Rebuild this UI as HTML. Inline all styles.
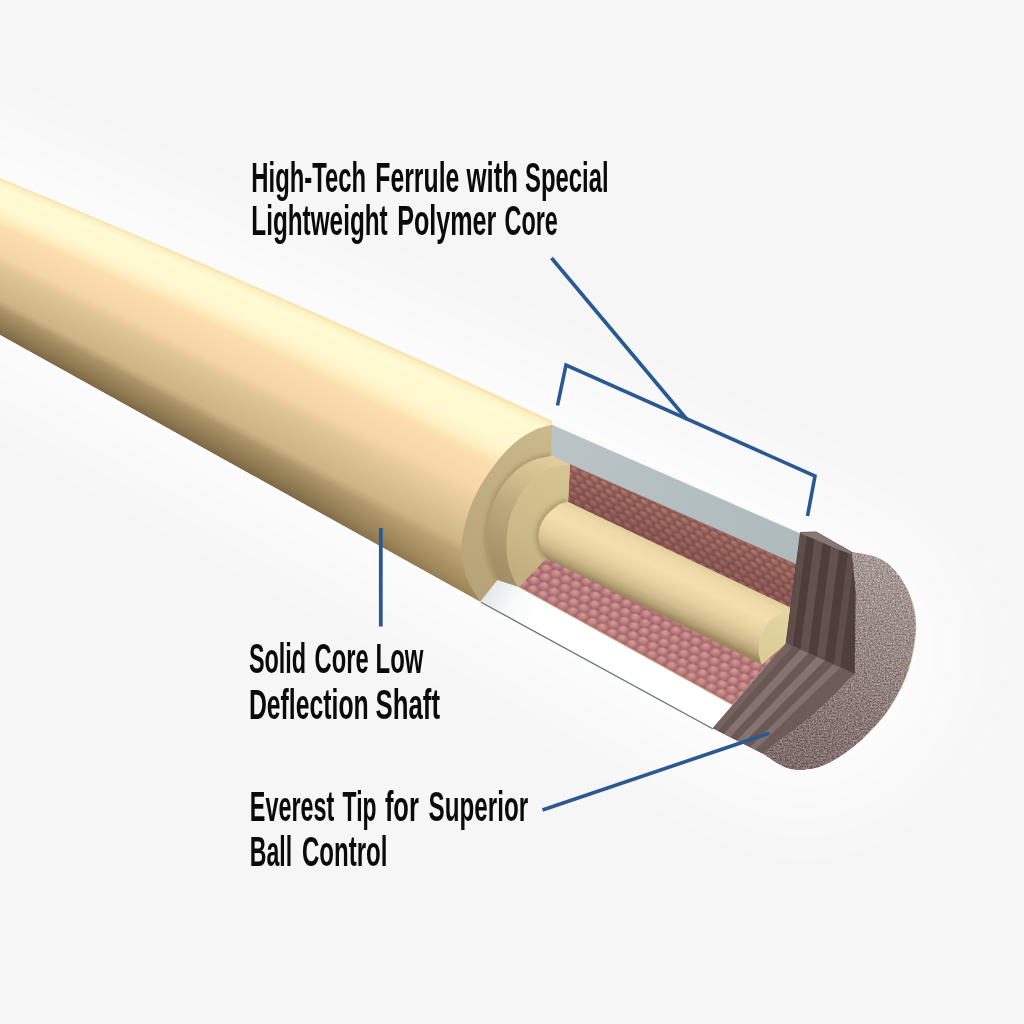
<!DOCTYPE html>
<html><head><meta charset="utf-8"><title>Cue shaft cutaway</title>
<style>
html,body{margin:0;padding:0;width:1024px;height:1024px;overflow:hidden;background:#f6f6f6;font-family:"Liberation Sans",sans-serif;}
#bg{position:absolute;left:0;top:0;width:1024px;height:1024px;background:#f6f6f6;}
svg{position:absolute;left:0;top:0;will-change:transform;}
</style></head><body>
<div id="bg"></div>
<svg width="1024" height="1024" viewBox="0 0 1024 1024">
<defs>
<filter id="glow" x="-30%" y="-40%" width="160%" height="180%"><feGaussianBlur stdDeviation="50"/></filter>
<clipPath id="shaftclip"><path d="M-5,175.6  L60.0,202.6 L120.0,227.9 L180.0,253.5 L240.0,279.5 L300.0,305.8 L360.0,332.6 L420.0,359.6 L480.0,387.1 L552.4,420.7 L552.4,425 L480.4,601.8 L-5,332.2 Z"/></clipPath>
<linearGradient id="s0" gradientUnits="userSpaceOnUse" x1="300" y1="0" x2="470" y2="0"><stop offset="0" stop-color="#f9e6b5"/><stop offset="1" stop-color="#f9e6b5"/></linearGradient>
<linearGradient id="s1" gradientUnits="userSpaceOnUse" x1="300" y1="0" x2="470" y2="0"><stop offset="0" stop-color="#fdf1c3"/><stop offset="1" stop-color="#fdf1c3"/></linearGradient>
<linearGradient id="s2" gradientUnits="userSpaceOnUse" x1="300" y1="0" x2="470" y2="0"><stop offset="0" stop-color="#fef5ca"/><stop offset="1" stop-color="#fef5ca"/></linearGradient>
<linearGradient id="s3" gradientUnits="userSpaceOnUse" x1="300" y1="0" x2="470" y2="0"><stop offset="0" stop-color="#fff9d1"/><stop offset="1" stop-color="#fff9d1"/></linearGradient>
<linearGradient id="s4" gradientUnits="userSpaceOnUse" x1="300" y1="0" x2="470" y2="0"><stop offset="0" stop-color="#fffad3"/><stop offset="1" stop-color="#fffad3"/></linearGradient>
<linearGradient id="s5" gradientUnits="userSpaceOnUse" x1="300" y1="0" x2="470" y2="0"><stop offset="0" stop-color="#fffad2"/><stop offset="1" stop-color="#fffad2"/></linearGradient>
<linearGradient id="s6" gradientUnits="userSpaceOnUse" x1="300" y1="0" x2="470" y2="0"><stop offset="0" stop-color="#fff9d2"/><stop offset="1" stop-color="#fff9d2"/></linearGradient>
<linearGradient id="s7" gradientUnits="userSpaceOnUse" x1="300" y1="0" x2="470" y2="0"><stop offset="0" stop-color="#fff9d2"/><stop offset="1" stop-color="#fff9d2"/></linearGradient>
<linearGradient id="s8" gradientUnits="userSpaceOnUse" x1="300" y1="0" x2="470" y2="0"><stop offset="0" stop-color="#fff9d1"/><stop offset="1" stop-color="#fff9d1"/></linearGradient>
<linearGradient id="s9" gradientUnits="userSpaceOnUse" x1="300" y1="0" x2="470" y2="0"><stop offset="0" stop-color="#fff9d1"/><stop offset="1" stop-color="#fff9d1"/></linearGradient>
<linearGradient id="s10" gradientUnits="userSpaceOnUse" x1="300" y1="0" x2="470" y2="0"><stop offset="0" stop-color="#fff8d0"/><stop offset="1" stop-color="#fff9d1"/></linearGradient>
<linearGradient id="s11" gradientUnits="userSpaceOnUse" x1="300" y1="0" x2="470" y2="0"><stop offset="0" stop-color="#fff8d0"/><stop offset="1" stop-color="#fff8d0"/></linearGradient>
<linearGradient id="s12" gradientUnits="userSpaceOnUse" x1="300" y1="0" x2="470" y2="0"><stop offset="0" stop-color="#fff6cd"/><stop offset="1" stop-color="#fff8d0"/></linearGradient>
<linearGradient id="s13" gradientUnits="userSpaceOnUse" x1="300" y1="0" x2="470" y2="0"><stop offset="0" stop-color="#fff4ca"/><stop offset="1" stop-color="#fff7ce"/></linearGradient>
<linearGradient id="s14" gradientUnits="userSpaceOnUse" x1="300" y1="0" x2="470" y2="0"><stop offset="0" stop-color="#fff3c7"/><stop offset="1" stop-color="#fff5cb"/></linearGradient>
<linearGradient id="s15" gradientUnits="userSpaceOnUse" x1="300" y1="0" x2="470" y2="0"><stop offset="0" stop-color="#fff0c3"/><stop offset="1" stop-color="#fff4c9"/></linearGradient>
<linearGradient id="s16" gradientUnits="userSpaceOnUse" x1="300" y1="0" x2="470" y2="0"><stop offset="0" stop-color="#feecbe"/><stop offset="1" stop-color="#fff2c6"/></linearGradient>
<linearGradient id="s17" gradientUnits="userSpaceOnUse" x1="300" y1="0" x2="470" y2="0"><stop offset="0" stop-color="#fde8b9"/><stop offset="1" stop-color="#fff0c3"/></linearGradient>
<linearGradient id="s18" gradientUnits="userSpaceOnUse" x1="300" y1="0" x2="470" y2="0"><stop offset="0" stop-color="#fde4b4"/><stop offset="1" stop-color="#feeabc"/></linearGradient>
<linearGradient id="s19" gradientUnits="userSpaceOnUse" x1="300" y1="0" x2="470" y2="0"><stop offset="0" stop-color="#fcdfb0"/><stop offset="1" stop-color="#fde5b6"/></linearGradient>
<linearGradient id="s20" gradientUnits="userSpaceOnUse" x1="300" y1="0" x2="470" y2="0"><stop offset="0" stop-color="#fcddad"/><stop offset="1" stop-color="#fce1b1"/></linearGradient>
<linearGradient id="s21" gradientUnits="userSpaceOnUse" x1="300" y1="0" x2="470" y2="0"><stop offset="0" stop-color="#fbdcac"/><stop offset="1" stop-color="#fcdeae"/></linearGradient>
<linearGradient id="s22" gradientUnits="userSpaceOnUse" x1="300" y1="0" x2="470" y2="0"><stop offset="0" stop-color="#fbdcac"/><stop offset="1" stop-color="#fbddad"/></linearGradient>
<linearGradient id="s23" gradientUnits="userSpaceOnUse" x1="300" y1="0" x2="470" y2="0"><stop offset="0" stop-color="#fbdbab"/><stop offset="1" stop-color="#fbdcac"/></linearGradient>
<linearGradient id="s24" gradientUnits="userSpaceOnUse" x1="300" y1="0" x2="470" y2="0"><stop offset="0" stop-color="#fadaaa"/><stop offset="1" stop-color="#fbdbab"/></linearGradient>
<linearGradient id="s25" gradientUnits="userSpaceOnUse" x1="300" y1="0" x2="470" y2="0"><stop offset="0" stop-color="#fadaaa"/><stop offset="1" stop-color="#fadbab"/></linearGradient>
<linearGradient id="s26" gradientUnits="userSpaceOnUse" x1="300" y1="0" x2="470" y2="0"><stop offset="0" stop-color="#f9d9a9"/><stop offset="1" stop-color="#fadaaa"/></linearGradient>
<linearGradient id="s27" gradientUnits="userSpaceOnUse" x1="300" y1="0" x2="470" y2="0"><stop offset="0" stop-color="#f9d8a8"/><stop offset="1" stop-color="#f9d9a9"/></linearGradient>
<linearGradient id="s28" gradientUnits="userSpaceOnUse" x1="300" y1="0" x2="470" y2="0"><stop offset="0" stop-color="#f8d8a8"/><stop offset="1" stop-color="#f9d9a9"/></linearGradient>
<linearGradient id="s29" gradientUnits="userSpaceOnUse" x1="300" y1="0" x2="470" y2="0"><stop offset="0" stop-color="#f8d7a7"/><stop offset="1" stop-color="#f9d8a8"/></linearGradient>
<linearGradient id="s30" gradientUnits="userSpaceOnUse" x1="300" y1="0" x2="470" y2="0"><stop offset="0" stop-color="#f7d7a7"/><stop offset="1" stop-color="#f8d7a7"/></linearGradient>
<linearGradient id="s31" gradientUnits="userSpaceOnUse" x1="300" y1="0" x2="470" y2="0"><stop offset="0" stop-color="#f6d5a5"/><stop offset="1" stop-color="#f7d6a6"/></linearGradient>
<linearGradient id="s32" gradientUnits="userSpaceOnUse" x1="300" y1="0" x2="470" y2="0"><stop offset="0" stop-color="#f2d2a2"/><stop offset="1" stop-color="#f3d4a4"/></linearGradient>
<linearGradient id="s33" gradientUnits="userSpaceOnUse" x1="300" y1="0" x2="470" y2="0"><stop offset="0" stop-color="#edce9e"/><stop offset="1" stop-color="#f0d2a2"/></linearGradient>
<linearGradient id="s34" gradientUnits="userSpaceOnUse" x1="300" y1="0" x2="470" y2="0"><stop offset="0" stop-color="#e8cb9b"/><stop offset="1" stop-color="#edd0a0"/></linearGradient>
<linearGradient id="s35" gradientUnits="userSpaceOnUse" x1="300" y1="0" x2="470" y2="0"><stop offset="0" stop-color="#e4c898"/><stop offset="1" stop-color="#eacf9f"/></linearGradient>
<linearGradient id="s36" gradientUnits="userSpaceOnUse" x1="300" y1="0" x2="470" y2="0"><stop offset="0" stop-color="#dfc696"/><stop offset="1" stop-color="#e9cd9d"/></linearGradient>
<linearGradient id="s37" gradientUnits="userSpaceOnUse" x1="300" y1="0" x2="470" y2="0"><stop offset="0" stop-color="#dec595"/><stop offset="1" stop-color="#e7cb9b"/></linearGradient>
<linearGradient id="s38" gradientUnits="userSpaceOnUse" x1="300" y1="0" x2="470" y2="0"><stop offset="0" stop-color="#dcc393"/><stop offset="1" stop-color="#e5ca9a"/></linearGradient>
<linearGradient id="s39" gradientUnits="userSpaceOnUse" x1="300" y1="0" x2="470" y2="0"><stop offset="0" stop-color="#dbc292"/><stop offset="1" stop-color="#e3c898"/></linearGradient>
<linearGradient id="s40" gradientUnits="userSpaceOnUse" x1="300" y1="0" x2="470" y2="0"><stop offset="0" stop-color="#d9c090"/><stop offset="1" stop-color="#e1c797"/></linearGradient>
<linearGradient id="s41" gradientUnits="userSpaceOnUse" x1="300" y1="0" x2="470" y2="0"><stop offset="0" stop-color="#d8bf8f"/><stop offset="1" stop-color="#dfc595"/></linearGradient>
<linearGradient id="s42" gradientUnits="userSpaceOnUse" x1="300" y1="0" x2="470" y2="0"><stop offset="0" stop-color="#d6bd8d"/><stop offset="1" stop-color="#ddc393"/></linearGradient>
<linearGradient id="s43" gradientUnits="userSpaceOnUse" x1="300" y1="0" x2="470" y2="0"><stop offset="0" stop-color="#d5bc8c"/><stop offset="1" stop-color="#dbc191"/></linearGradient>
<linearGradient id="s44" gradientUnits="userSpaceOnUse" x1="300" y1="0" x2="470" y2="0"><stop offset="0" stop-color="#d4bb8b"/><stop offset="1" stop-color="#d8bf8f"/></linearGradient>
<linearGradient id="s45" gradientUnits="userSpaceOnUse" x1="300" y1="0" x2="470" y2="0"><stop offset="0" stop-color="#d3ba8a"/><stop offset="1" stop-color="#d6bd8d"/></linearGradient>
<linearGradient id="s46" gradientUnits="userSpaceOnUse" x1="300" y1="0" x2="470" y2="0"><stop offset="0" stop-color="#d1b889"/><stop offset="1" stop-color="#d4bc8c"/></linearGradient>
<linearGradient id="s47" gradientUnits="userSpaceOnUse" x1="300" y1="0" x2="470" y2="0"><stop offset="0" stop-color="#d0b788"/><stop offset="1" stop-color="#d2ba8a"/></linearGradient>
<linearGradient id="s48" gradientUnits="userSpaceOnUse" x1="300" y1="0" x2="470" y2="0"><stop offset="0" stop-color="#cfb687"/><stop offset="1" stop-color="#cfb787"/></linearGradient>
<linearGradient id="s49" gradientUnits="userSpaceOnUse" x1="300" y1="0" x2="470" y2="0"><stop offset="0" stop-color="#ccb485"/><stop offset="1" stop-color="#cdb485"/></linearGradient>
<linearGradient id="s50" gradientUnits="userSpaceOnUse" x1="300" y1="0" x2="470" y2="0"><stop offset="0" stop-color="#c5ad7e"/><stop offset="1" stop-color="#c8af80"/></linearGradient>
<linearGradient id="s51" gradientUnits="userSpaceOnUse" x1="300" y1="0" x2="470" y2="0"><stop offset="0" stop-color="#bda577"/><stop offset="1" stop-color="#c1a87a"/></linearGradient>
<linearGradient id="s52" gradientUnits="userSpaceOnUse" x1="300" y1="0" x2="470" y2="0"><stop offset="0" stop-color="#b29a6e"/><stop offset="1" stop-color="#bda476"/></linearGradient>
<linearGradient id="s53" gradientUnits="userSpaceOnUse" x1="300" y1="0" x2="470" y2="0"><stop offset="0" stop-color="#aa9367"/><stop offset="1" stop-color="#bba274"/></linearGradient>
<linearGradient id="s54" gradientUnits="userSpaceOnUse" x1="300" y1="0" x2="470" y2="0"><stop offset="0" stop-color="#a68f63"/><stop offset="1" stop-color="#b89f71"/></linearGradient>
<linearGradient id="s55" gradientUnits="userSpaceOnUse" x1="300" y1="0" x2="470" y2="0"><stop offset="0" stop-color="#a28b60"/><stop offset="1" stop-color="#b59c6e"/></linearGradient>
<linearGradient id="s56" gradientUnits="userSpaceOnUse" x1="300" y1="0" x2="470" y2="0"><stop offset="0" stop-color="#9e875d"/><stop offset="1" stop-color="#b29a6b"/></linearGradient>
<linearGradient id="s57" gradientUnits="userSpaceOnUse" x1="300" y1="0" x2="470" y2="0"><stop offset="0" stop-color="#9a8359"/><stop offset="1" stop-color="#b09768"/></linearGradient>
<linearGradient id="s58" gradientUnits="userSpaceOnUse" x1="300" y1="0" x2="470" y2="0"><stop offset="0" stop-color="#967f56"/><stop offset="1" stop-color="#ad9465"/></linearGradient>
<linearGradient id="s59" gradientUnits="userSpaceOnUse" x1="300" y1="0" x2="470" y2="0"><stop offset="0" stop-color="#927c54"/><stop offset="1" stop-color="#aa9262"/></linearGradient>
<linearGradient id="s60" gradientUnits="userSpaceOnUse" x1="300" y1="0" x2="470" y2="0"><stop offset="0" stop-color="#8e7851"/><stop offset="1" stop-color="#a78f5f"/></linearGradient>
<linearGradient id="s61" gradientUnits="userSpaceOnUse" x1="300" y1="0" x2="470" y2="0"><stop offset="0" stop-color="#8a744e"/><stop offset="1" stop-color="#a38b5d"/></linearGradient>
<linearGradient id="s62" gradientUnits="userSpaceOnUse" x1="300" y1="0" x2="470" y2="0"><stop offset="0" stop-color="#856f4b"/><stop offset="1" stop-color="#9f875b"/></linearGradient>
<linearGradient id="s63" gradientUnits="userSpaceOnUse" x1="300" y1="0" x2="470" y2="0"><stop offset="0" stop-color="#806b48"/><stop offset="1" stop-color="#9c8459"/></linearGradient>
<linearGradient id="gw" gradientUnits="userSpaceOnUse" x1="552" y1="440" x2="800" y2="548"><stop offset="0" stop-color="#bac4c6"/><stop offset="0.5" stop-color="#b4bfc1"/><stop offset="1" stop-color="#aebabc"/></linearGradient>
<linearGradient id="ws" gradientUnits="userSpaceOnUse" x1="488" y1="590" x2="535" y2="616"><stop offset="0" stop-color="#e3e8ea"/><stop offset="0.5" stop-color="#f8f9f9"/><stop offset="1" stop-color="#ffffff"/></linearGradient>
<radialGradient id="bU" cx="0.5" cy="0.5" r="0.5" fx="0.36" fy="0.30"><stop offset="0" stop-color="#ba8673"/><stop offset="0.55" stop-color="#a46f64"/><stop offset="1" stop-color="#885655"/></radialGradient>
<radialGradient id="bL" cx="0.5" cy="0.5" r="0.5" fx="0.36" fy="0.28"><stop offset="0" stop-color="#d9a28d"/><stop offset="0.5" stop-color="#c38683"/><stop offset="1" stop-color="#a26471"/></radialGradient>
<pattern id="hcU" width="10.00" height="17.32" patternUnits="userSpaceOnUse" patternTransform="matrix(1.0,0.46,-0.04,0.70,570,465)"><rect width="10.00" height="17.32" fill="#845352"/><circle cx="5.00" cy="4.33" r="5.40" fill="url(#bU)"/><circle cx="0.00" cy="12.99" r="5.40" fill="url(#bU)"/><circle cx="10.00" cy="12.99" r="5.40" fill="url(#bU)"/></pattern>
<pattern id="hcL" width="10.00" height="17.32" patternUnits="userSpaceOnUse" patternTransform="matrix(0.99,0.546,-0.70,0.70,520,587)"><rect width="10.00" height="17.32" fill="#9c5f6b"/><circle cx="5.00" cy="4.33" r="5.50" fill="url(#bL)"/><circle cx="0.00" cy="12.99" r="5.50" fill="url(#bL)"/><circle cx="10.00" cy="12.99" r="5.50" fill="url(#bL)"/></pattern>
<linearGradient id="hcUs" gradientUnits="userSpaceOnUse" x1="690" y1="500" x2="672" y2="540"><stop offset="0.2" stop-color="#5a2c30" stop-opacity="0"/><stop offset="1" stop-color="#5a2c30" stop-opacity="0.28"/></linearGradient>
<linearGradient id="shf" gradientUnits="userSpaceOnUse" x1="545" y1="425" x2="478" y2="600"><stop offset="0" stop-color="#cbba8b"/><stop offset="0.45" stop-color="#c0ad80"/><stop offset="1" stop-color="#b6a278"/></linearGradient>
<filter id="blur2" x="-20%" y="-20%" width="140%" height="140%"><feGaussianBlur stdDeviation="2.2"/></filter>
<clipPath id="shfc"><path d="M552.3,424.6 C549.2,425.6 540.1,427.4 533.8,430.5 C527.4,433.6 520.7,437.5 514.2,443.2 C507.7,448.9 500.9,456.6 494.7,464.7 C488.5,472.8 481.8,482.9 477.1,492.0 C472.4,501.1 469.0,510.3 466.4,519.4 C463.8,528.5 461.7,537.6 461.5,546.7 C461.3,555.8 463.4,566.7 465.4,574.0 C467.3,581.3 470.7,585.9 473.2,590.5 C475.7,595.1 479.2,599.8 480.4,601.6 L497.6,580.0 C496.5,577.0 492.6,569.1 490.8,562.3 C489.0,555.4 487.1,546.7 486.9,538.9 C486.7,531.1 487.9,523.3 489.8,515.5 C491.8,507.7 494.5,499.2 498.6,492.0 C502.7,484.8 508.7,477.7 514.2,472.5 C519.7,467.3 525.6,463.6 531.8,460.8 C538.0,458.0 548.0,456.7 551.3,455.9 Z"/></clipPath>
<linearGradient id="tns" gradientUnits="userSpaceOnUse" x1="548" y1="452" x2="495" y2="585"><stop offset="0" stop-color="#e3cf9f"/><stop offset="0.22" stop-color="#d3bf8e"/><stop offset="0.45" stop-color="#bea97c"/><stop offset="0.8" stop-color="#a9946a"/><stop offset="1" stop-color="#a08b63"/></linearGradient>
<linearGradient id="tnf" gradientUnits="userSpaceOnUse" x1="565" y1="468" x2="510" y2="585"><stop offset="0" stop-color="#d6c492"/><stop offset="0.6" stop-color="#cbb989"/><stop offset="1" stop-color="#bfac7e"/></linearGradient>
<clipPath id="tnfc"><path d="M569.9,464.7 C566.5,465.4 555.8,466.0 549.4,468.6 C543.0,471.2 537.0,475.4 531.8,480.3 C526.6,485.2 521.9,491.4 518.1,497.9 C514.4,504.4 511.2,511.9 509.3,519.4 C507.4,526.9 506.5,535.3 506.4,542.8 C506.2,550.3 506.9,557.8 508.4,564.3 C509.9,570.8 513.4,578.1 515.2,581.9 C517.0,585.6 518.5,586.0 519.1,586.8 L546.4,558.4 L567.9,501.8 Z"/></clipPath>
<linearGradient id="rod" gradientUnits="userSpaceOnUse" x1="668" y1="550" x2="642" y2="604"><stop offset="0" stop-color="#e4cf9f"/><stop offset="0.12" stop-color="#f0daaa"/><stop offset="0.33" stop-color="#f5dfaf"/><stop offset="0.58" stop-color="#e9d2a2"/><stop offset="0.78" stop-color="#d4bd8e"/><stop offset="0.91" stop-color="#baa579"/><stop offset="1" stop-color="#9c8860"/></linearGradient>
<linearGradient id="rodf" gradientUnits="userSpaceOnUse" x1="785" y1="610" x2="762" y2="665"><stop offset="0" stop-color="#e4d6a1"/><stop offset="1" stop-color="#dacb96"/></linearGradient>
<filter id="noise" x="0" y="0" width="100%" height="100%" color-interpolation-filters="sRGB">
<feTurbulence type="fractalNoise" baseFrequency="0.62" numOctaves="2" seed="11" result="n"/>
<feColorMatrix in="n" type="matrix" values="1 0 0 0 0  1 0 0 0 0  1 0 0 0 0  0 0 0 0 1" result="g"/>
<feComposite in="SourceGraphic" in2="g" operator="arithmetic" k1="0" k2="1" k3="0.52" k4="-0.26" result="m"/>
<feComposite in="m" in2="SourceGraphic" operator="in"/>
</filter>
<linearGradient id="lth" gradientUnits="userSpaceOnUse" x1="885" y1="555" x2="795" y2="765"><stop offset="0" stop-color="#a89a97"/><stop offset="0.35" stop-color="#9a8a87"/><stop offset="0.75" stop-color="#877673"/><stop offset="1" stop-color="#7e6d6a"/></linearGradient>
<clipPath id="vfc"><polygon points="800.5,532.5 816.0,532.0 851.3,552.0 855.2,592.0 854.3,673.6 786.2,643.0"/></clipPath>
<clipPath id="hfc"><path d="M786.2,643.0 L854.3,673.6 C850.9,676.5 844.1,684.5 836.7,691.8 C829.3,699.1 818.2,709.7 809.4,717.2 C800.6,724.7 791.7,730.6 784.0,736.7 C776.3,742.8 766.5,750.9 763.0,753.8 L712.7,728.2 Z"/></clipPath>
</defs>
<polygon points="-120.0,85.0 250.0,246.0 552.0,376.0 800.0,488.0 880.0,520.0 945.0,575.0 962.0,645.0 940.0,725.0 880.0,792.0 800.0,818.0 735.0,792.0 480.0,646.0 0.0,379.0 -120.0,312.0" fill="#ffffff" opacity="0.8" filter="url(#glow)"/>
<g clip-path="url(#shaftclip)">
<polygon points="-10.0,173.6 80.0,211.0 170.0,249.2 260.0,288.2 350.0,328.1 440.0,368.8 530.0,410.2 620.0,452.6 620.0,458.6 530.0,416.1 440.0,374.4 350.0,333.4 260.0,293.3 170.0,254.0 80.0,215.5 -10.0,177.7" fill="url(#s0)"/>
<polygon points="-10.0,176.0 80.0,213.6 170.0,252.0 260.0,291.2 350.0,331.2 440.0,372.1 530.0,413.7 620.0,456.1 620.0,462.1 530.0,419.5 440.0,377.7 350.0,336.6 260.0,296.3 170.0,256.8 80.0,218.1 -10.0,180.2" fill="url(#s1)"/>
<polygon points="-10.0,178.5 80.0,216.2 170.0,254.8 260.0,294.2 350.0,334.4 440.0,375.4 530.0,417.1 620.0,459.7 620.0,465.7 530.0,422.9 440.0,381.0 350.0,339.7 260.0,299.3 170.0,259.6 80.0,220.7 -10.0,182.6" fill="url(#s2)"/>
<polygon points="-10.0,180.9 80.0,218.9 170.0,257.7 260.0,297.2 350.0,337.5 440.0,378.7 530.0,420.5 620.0,463.2 620.0,469.3 530.0,426.4 440.0,384.3 350.0,342.9 260.0,302.3 170.0,262.4 80.0,223.4 -10.0,185.0" fill="url(#s3)"/>
<polygon points="-10.0,183.3 80.0,221.5 170.0,260.5 260.0,300.2 350.0,340.7 440.0,382.0 530.0,424.0 620.0,466.8 620.0,472.8 530.0,429.8 440.0,387.6 350.0,346.0 260.0,305.3 170.0,265.3 80.0,226.0 -10.0,187.5" fill="url(#s4)"/>
<polygon points="-10.0,185.8 80.0,224.2 170.0,263.3 260.0,303.2 350.0,343.8 440.0,385.2 530.0,427.4 620.0,470.3 620.0,476.4 530.0,433.2 440.0,390.9 350.0,349.2 260.0,308.3 170.0,268.1 80.0,228.6 -10.0,189.9" fill="url(#s5)"/>
<polygon points="-10.0,188.2 80.0,226.8 170.0,266.1 260.0,306.2 350.0,347.0 440.0,388.5 530.0,430.8 620.0,473.9 620.0,479.9 530.0,436.7 440.0,394.2 350.0,352.4 260.0,311.3 170.0,270.9 80.0,231.3 -10.0,192.3" fill="url(#s6)"/>
<polygon points="-10.0,190.6 80.0,229.4 170.0,268.9 260.0,309.2 350.0,350.1 440.0,391.8 530.0,434.3 620.0,477.4 620.0,483.5 530.0,440.1 440.0,397.5 350.0,355.5 260.0,314.3 170.0,273.7 80.0,233.9 -10.0,194.8" fill="url(#s7)"/>
<polygon points="-10.0,193.1 80.0,232.1 170.0,271.8 260.0,312.2 350.0,353.3 440.0,395.1 530.0,437.7 620.0,481.0 620.0,487.0 530.0,443.5 440.0,400.8 350.0,358.7 260.0,317.3 170.0,276.5 80.0,236.5 -10.0,197.2" fill="url(#s8)"/>
<polygon points="-10.0,195.5 80.0,234.7 170.0,274.6 260.0,315.2 350.0,356.4 440.0,398.4 530.0,441.1 620.0,484.5 620.0,490.6 530.0,447.0 440.0,404.1 350.0,361.8 260.0,320.2 170.0,279.4 80.0,239.2 -10.0,199.6" fill="url(#s9)"/>
<polygon points="-10.0,197.9 80.0,237.3 170.0,277.4 260.0,318.1 350.0,359.6 440.0,401.7 530.0,444.6 620.0,488.1 620.0,494.1 530.0,450.4 440.0,407.3 350.0,365.0 260.0,323.2 170.0,282.2 80.0,241.8 -10.0,202.1" fill="url(#s10)"/>
<polygon points="-10.0,200.4 80.0,240.0 170.0,280.2 260.0,321.1 350.0,362.8 440.0,405.0 530.0,448.0 620.0,491.6 620.0,497.7 530.0,453.8 440.0,410.6 350.0,368.1 260.0,326.2 170.0,285.0 80.0,244.4 -10.0,204.5" fill="url(#s11)"/>
<polygon points="-10.0,202.8 80.0,242.6 170.0,283.0 260.0,324.1 350.0,365.9 440.0,408.3 530.0,451.4 620.0,495.2 620.0,501.2 530.0,457.3 440.0,413.9 350.0,371.3 260.0,329.2 170.0,287.8 80.0,247.1 -10.0,206.9" fill="url(#s12)"/>
<polygon points="-10.0,205.2 80.0,245.2 170.0,285.8 260.0,327.1 350.0,369.1 440.0,411.6 530.0,454.9 620.0,498.8 620.0,504.8 530.0,460.7 440.0,417.2 350.0,374.4 260.0,332.2 170.0,290.6 80.0,249.7 -10.0,209.4" fill="url(#s13)"/>
<polygon points="-10.0,207.7 80.0,247.9 170.0,288.7 260.0,330.1 350.0,372.2 440.0,414.9 530.0,458.3 620.0,502.3 620.0,508.4 530.0,464.1 440.0,420.5 350.0,377.6 260.0,335.2 170.0,293.5 80.0,252.3 -10.0,211.8" fill="url(#s14)"/>
<polygon points="-10.0,210.1 80.0,250.5 170.0,291.5 260.0,333.1 350.0,375.4 440.0,418.2 530.0,461.7 620.0,505.9 620.0,511.9 530.0,467.6 440.0,423.8 350.0,380.7 260.0,338.2 170.0,296.3 80.0,255.0 -10.0,214.3" fill="url(#s15)"/>
<polygon points="-10.0,212.5 80.0,253.1 170.0,294.3 260.0,336.1 350.0,378.5 440.0,421.5 530.0,465.2 620.0,509.4 620.0,515.5 530.0,471.0 440.0,427.1 350.0,383.9 260.0,341.2 170.0,299.1 80.0,257.6 -10.0,216.7" fill="url(#s16)"/>
<polygon points="-10.0,215.0 80.0,255.8 170.0,297.1 260.0,339.1 350.0,381.7 440.0,424.8 530.0,468.6 620.0,513.0 620.0,519.0 530.0,474.4 440.0,430.4 350.0,387.0 260.0,344.2 170.0,301.9 80.0,260.2 -10.0,219.1" fill="url(#s17)"/>
<polygon points="-10.0,217.4 80.0,258.4 170.0,299.9 260.0,342.1 350.0,384.8 440.0,428.1 530.0,472.0 620.0,516.5 620.0,522.6 530.0,477.9 440.0,433.7 350.0,390.2 260.0,347.2 170.0,304.7 80.0,262.9 -10.0,221.6" fill="url(#s18)"/>
<polygon points="-10.0,219.9 80.0,261.0 170.0,302.8 260.0,345.1 350.0,388.0 440.0,431.4 530.0,475.5 620.0,520.1 620.0,526.1 530.0,481.3 440.0,437.0 350.0,393.3 260.0,350.2 170.0,307.5 80.0,265.5 -10.0,224.0" fill="url(#s19)"/>
<polygon points="-10.0,222.3 80.0,263.7 170.0,305.6 260.0,348.1 350.0,391.1 440.0,434.7 530.0,478.9 620.0,523.6 620.0,529.7 530.0,484.7 440.0,440.3 350.0,396.5 260.0,353.1 170.0,310.4 80.0,268.1 -10.0,226.4" fill="url(#s20)"/>
<polygon points="-10.0,224.7 80.0,266.3 170.0,308.4 260.0,351.1 350.0,394.3 440.0,438.0 530.0,482.3 620.0,527.2 620.0,533.2 530.0,488.2 440.0,443.6 350.0,399.6 260.0,356.1 170.0,313.2 80.0,270.8 -10.0,228.9" fill="url(#s21)"/>
<polygon points="-10.0,227.2 80.0,268.9 170.0,311.2 260.0,354.0 350.0,397.4 440.0,441.3 530.0,485.8 620.0,530.7 620.0,536.8 530.0,491.6 440.0,446.9 350.0,402.8 260.0,359.1 170.0,316.0 80.0,273.4 -10.0,231.3" fill="url(#s22)"/>
<polygon points="-10.0,229.6 80.0,271.6 170.0,314.0 260.0,357.0 350.0,400.6 440.0,444.6 530.0,489.2 620.0,534.3 620.0,540.3 530.0,495.0 440.0,450.2 350.0,405.9 260.0,362.1 170.0,318.8 80.0,276.0 -10.0,233.7" fill="url(#s23)"/>
<polygon points="-10.0,232.0 80.0,274.2 170.0,316.9 260.0,360.0 350.0,403.7 440.0,447.9 530.0,492.6 620.0,537.9 620.0,543.9 530.0,498.5 440.0,453.5 350.0,409.1 260.0,365.1 170.0,321.6 80.0,278.7 -10.0,236.2" fill="url(#s24)"/>
<polygon points="-10.0,234.5 80.0,276.8 170.0,319.7 260.0,363.0 350.0,406.9 440.0,451.2 530.0,496.1 620.0,541.4 620.0,547.5 530.0,501.9 440.0,456.8 350.0,412.2 260.0,368.1 170.0,324.5 80.0,281.3 -10.0,238.6" fill="url(#s25)"/>
<polygon points="-10.0,236.9 80.0,279.5 170.0,322.5 260.0,366.0 350.0,410.0 440.0,454.5 530.0,499.5 620.0,545.0 620.0,551.0 530.0,505.3 440.0,460.1 350.0,415.4 260.0,371.1 170.0,327.3 80.0,283.9 -10.0,241.0" fill="url(#s26)"/>
<polygon points="-10.0,239.3 80.0,282.1 170.0,325.3 260.0,369.0 350.0,413.2 440.0,457.8 530.0,502.9 620.0,548.5 620.0,554.6 530.0,508.8 440.0,463.4 350.0,418.5 260.0,374.1 170.0,330.1 80.0,286.6 -10.0,243.5" fill="url(#s27)"/>
<polygon points="-10.0,241.8 80.0,284.7 170.0,328.1 260.0,372.0 350.0,416.3 440.0,461.1 530.0,506.4 620.0,552.1 620.0,558.1 530.0,512.2 440.0,466.7 350.0,421.7 260.0,377.1 170.0,332.9 80.0,289.2 -10.0,245.9" fill="url(#s28)"/>
<polygon points="-10.0,244.2 80.0,287.4 170.0,330.9 260.0,375.0 350.0,419.5 440.0,464.4 530.0,509.8 620.0,555.6 620.0,561.7 530.0,515.6 440.0,470.0 350.0,424.8 260.0,380.1 170.0,335.7 80.0,291.8 -10.0,248.3" fill="url(#s29)"/>
<polygon points="-10.0,246.6 80.0,290.0 170.0,333.8 260.0,378.0 350.0,422.6 440.0,467.7 530.0,513.2 620.0,559.2 620.0,565.2 530.0,519.1 440.0,473.3 350.0,428.0 260.0,383.1 170.0,338.6 80.0,294.5 -10.0,250.8" fill="url(#s30)"/>
<polygon points="-10.0,249.1 80.0,292.6 170.0,336.6 260.0,381.0 350.0,425.8 440.0,471.0 530.0,516.7 620.0,562.7 620.0,568.8 530.0,522.5 440.0,476.6 350.0,431.1 260.0,386.1 170.0,341.4 80.0,297.1 -10.0,253.2" fill="url(#s31)"/>
<polygon points="-10.0,251.5 80.0,295.3 170.0,339.4 260.0,384.0 350.0,428.9 440.0,474.3 530.0,520.1 620.0,566.3 620.0,572.3 530.0,525.9 440.0,479.9 350.0,434.3 260.0,389.0 170.0,344.2 80.0,299.7 -10.0,255.6" fill="url(#s32)"/>
<polygon points="-10.0,253.9 80.0,297.9 170.0,342.2 260.0,387.0 350.0,432.1 440.0,477.6 530.0,523.5 620.0,569.8 620.0,575.9 530.0,529.4 440.0,483.2 350.0,437.4 260.0,392.0 170.0,347.0 80.0,302.4 -10.0,258.1" fill="url(#s33)"/>
<polygon points="-10.0,256.4 80.0,300.5 170.0,345.0 260.0,389.9 350.0,435.2 440.0,480.9 530.0,527.0 620.0,573.4 620.0,579.4 530.0,532.8 440.0,486.5 350.0,440.6 260.0,395.0 170.0,349.8 80.0,305.0 -10.0,260.5" fill="url(#s34)"/>
<polygon points="-10.0,258.8 80.0,303.2 170.0,347.9 260.0,392.9 350.0,438.4 440.0,484.2 530.0,530.4 620.0,577.0 620.0,583.0 530.0,536.2 440.0,489.8 350.0,443.7 260.0,398.0 170.0,352.7 80.0,307.6 -10.0,263.0" fill="url(#s35)"/>
<polygon points="-10.0,261.3 80.0,305.8 170.0,350.7 260.0,395.9 350.0,441.5 440.0,487.5 530.0,533.8 620.0,580.5 620.0,586.6 530.0,539.7 440.0,493.1 350.0,446.9 260.0,401.0 170.0,355.5 80.0,310.3 -10.0,265.4" fill="url(#s36)"/>
<polygon points="-10.0,263.7 80.0,308.4 170.0,353.5 260.0,398.9 350.0,444.7 440.0,490.8 530.0,537.3 620.0,584.1 620.0,590.1 530.0,543.1 440.0,496.4 350.0,450.0 260.0,404.0 170.0,358.3 80.0,312.9 -10.0,267.8" fill="url(#s37)"/>
<polygon points="-10.0,266.1 80.0,311.1 170.0,356.3 260.0,401.9 350.0,447.8 440.0,494.1 530.0,540.7 620.0,587.6 620.0,593.7 530.0,546.5 440.0,499.7 350.0,453.2 260.0,407.0 170.0,361.1 80.0,315.5 -10.0,270.3" fill="url(#s38)"/>
<polygon points="-10.0,268.6 80.0,313.7 170.0,359.1 260.0,404.9 350.0,451.0 440.0,497.4 530.0,544.1 620.0,591.2 620.0,597.2 530.0,550.0 440.0,503.0 350.0,456.3 260.0,410.0 170.0,363.9 80.0,318.2 -10.0,272.7" fill="url(#s39)"/>
<polygon points="-10.0,271.0 80.0,316.3 170.0,362.0 260.0,407.9 350.0,454.1 440.0,500.7 530.0,547.6 620.0,594.7 620.0,600.8 530.0,553.4 440.0,506.3 350.0,459.5 260.0,413.0 170.0,366.7 80.0,320.8 -10.0,275.1" fill="url(#s40)"/>
<polygon points="-10.0,273.4 80.0,319.0 170.0,364.8 260.0,410.9 350.0,457.3 440.0,504.0 530.0,551.0 620.0,598.3 620.0,604.3 530.0,556.8 440.0,509.6 350.0,462.7 260.0,416.0 170.0,369.6 80.0,323.4 -10.0,277.6" fill="url(#s41)"/>
<polygon points="-10.0,275.9 80.0,321.6 170.0,367.6 260.0,413.9 350.0,460.4 440.0,507.3 530.0,554.4 620.0,601.8 620.0,607.9 530.0,560.3 440.0,512.9 350.0,465.8 260.0,419.0 170.0,372.4 80.0,326.1 -10.0,280.0" fill="url(#s42)"/>
<polygon points="-10.0,278.3 80.0,324.2 170.0,370.4 260.0,416.9 350.0,463.6 440.0,510.6 530.0,557.9 620.0,605.4 620.0,611.4 530.0,563.7 440.0,516.2 350.0,469.0 260.0,422.0 170.0,375.2 80.0,328.7 -10.0,282.4" fill="url(#s43)"/>
<polygon points="-10.0,280.7 80.0,326.9 170.0,373.2 260.0,419.9 350.0,466.7 440.0,513.9 530.0,561.3 620.0,608.9 620.0,615.0 530.0,567.1 440.0,519.5 350.0,472.1 260.0,424.9 170.0,378.0 80.0,331.3 -10.0,284.9" fill="url(#s44)"/>
<polygon points="-10.0,283.2 80.0,329.5 170.0,376.0 260.0,422.9 350.0,469.9 440.0,517.2 530.0,564.7 620.0,612.5 620.0,618.5 530.0,570.6 440.0,522.8 350.0,475.3 260.0,427.9 170.0,380.8 80.0,334.0 -10.0,287.3" fill="url(#s45)"/>
<polygon points="-10.0,285.6 80.0,332.1 170.0,378.9 260.0,425.8 350.0,473.1 440.0,520.5 530.0,568.2 620.0,616.1 620.0,622.1 530.0,574.0 440.0,526.1 350.0,478.4 260.0,430.9 170.0,383.7 80.0,336.6 -10.0,289.7" fill="url(#s46)"/>
<polygon points="-10.0,288.0 80.0,334.8 170.0,381.7 260.0,428.8 350.0,476.2 440.0,523.8 530.0,571.6 620.0,619.6 620.0,625.6 530.0,577.4 440.0,529.4 350.0,481.6 260.0,433.9 170.0,386.5 80.0,339.2 -10.0,292.2" fill="url(#s47)"/>
<polygon points="-10.0,290.5 80.0,337.4 170.0,384.5 260.0,431.8 350.0,479.4 440.0,527.1 530.0,575.0 620.0,623.2 620.0,629.2 530.0,580.9 440.0,532.7 350.0,484.7 260.0,436.9 170.0,389.3 80.0,341.9 -10.0,294.6" fill="url(#s48)"/>
<polygon points="-10.0,292.9 80.0,340.0 170.0,387.3 260.0,434.8 350.0,482.5 440.0,530.4 530.0,578.5 620.0,626.7 620.0,632.8 530.0,584.3 440.0,536.0 350.0,487.9 260.0,439.9 170.0,392.1 80.0,344.5 -10.0,297.0" fill="url(#s49)"/>
<polygon points="-10.0,295.3 80.0,342.7 170.0,390.1 260.0,437.8 350.0,485.7 440.0,533.7 530.0,581.9 620.0,630.3 620.0,636.3 530.0,587.7 440.0,539.3 350.0,491.0 260.0,442.9 170.0,394.9 80.0,347.1 -10.0,299.5" fill="url(#s50)"/>
<polygon points="-10.0,297.8 80.0,345.3 170.0,393.0 260.0,440.8 350.0,488.8 440.0,537.0 530.0,585.3 620.0,633.8 620.0,639.9 530.0,591.2 440.0,542.6 350.0,494.2 260.0,445.9 170.0,397.8 80.0,349.8 -10.0,301.9" fill="url(#s51)"/>
<polygon points="-10.0,300.2 80.0,347.9 170.0,395.8 260.0,443.8 350.0,492.0 440.0,540.3 530.0,588.8 620.0,637.4 620.0,643.4 530.0,594.6 440.0,545.9 350.0,497.3 260.0,448.9 170.0,400.6 80.0,352.4 -10.0,304.4" fill="url(#s52)"/>
<polygon points="-10.0,302.6 80.0,350.6 170.0,398.6 260.0,446.8 350.0,495.1 440.0,543.6 530.0,592.2 620.0,640.9 620.0,647.0 530.0,598.0 440.0,549.2 350.0,500.5 260.0,451.9 170.0,403.4 80.0,355.0 -10.0,306.8" fill="url(#s53)"/>
<polygon points="-10.0,305.1 80.0,353.2 170.0,401.4 260.0,449.8 350.0,498.3 440.0,546.9 530.0,595.6 620.0,644.5 620.0,650.5 530.0,601.5 440.0,552.5 350.0,503.6 260.0,454.9 170.0,406.2 80.0,357.7 -10.0,309.2" fill="url(#s54)"/>
<polygon points="-10.0,307.5 80.0,355.8 170.0,404.2 260.0,452.8 350.0,501.4 440.0,550.2 530.0,599.0 620.0,648.0 620.0,654.1 530.0,604.9 440.0,555.8 350.0,506.8 260.0,457.9 170.0,409.0 80.0,360.3 -10.0,311.7" fill="url(#s55)"/>
<polygon points="-10.0,310.0 80.0,358.5 170.0,407.1 260.0,455.8 350.0,504.6 440.0,553.5 530.0,602.5 620.0,651.6 620.0,657.6 530.0,608.3 440.0,559.1 350.0,509.9 260.0,460.8 170.0,411.8 80.0,362.9 -10.0,314.1" fill="url(#s56)"/>
<polygon points="-10.0,312.4 80.0,361.1 170.0,409.9 260.0,458.7 350.0,507.7 440.0,556.8 530.0,605.9 620.0,655.1 620.0,661.2 530.0,611.8 440.0,562.4 350.0,513.1 260.0,463.8 170.0,414.7 80.0,365.6 -10.0,316.5" fill="url(#s57)"/>
<polygon points="-10.0,314.8 80.0,363.7 170.0,412.7 260.0,461.7 350.0,510.9 440.0,560.1 530.0,609.3 620.0,658.7 620.0,664.7 530.0,615.2 440.0,565.7 350.0,516.2 260.0,466.8 170.0,417.5 80.0,368.2 -10.0,319.0" fill="url(#s58)"/>
<polygon points="-10.0,317.3 80.0,366.4 170.0,415.5 260.0,464.7 350.0,514.0 440.0,563.4 530.0,612.8 620.0,662.3 620.0,668.3 530.0,618.6 440.0,569.0 350.0,519.4 260.0,469.8 170.0,420.3 80.0,370.8 -10.0,321.4" fill="url(#s59)"/>
<polygon points="-10.0,319.7 80.0,369.0 170.0,418.3 260.0,467.7 350.0,517.2 440.0,566.7 530.0,616.2 620.0,665.8 620.0,671.9 530.0,622.0 440.0,572.3 350.0,522.5 260.0,472.8 170.0,423.1 80.0,373.5 -10.0,323.8" fill="url(#s60)"/>
<polygon points="-10.0,322.1 80.0,371.6 170.0,421.1 260.0,470.7 350.0,520.3 440.0,570.0 530.0,619.6 620.0,669.4 620.0,675.4 530.0,625.5 440.0,575.6 350.0,525.7 260.0,475.8 170.0,425.9 80.0,376.1 -10.0,326.3" fill="url(#s61)"/>
<polygon points="-10.0,324.6 80.0,374.3 170.0,424.0 260.0,473.7 350.0,523.5 440.0,573.3 530.0,623.1 620.0,672.9 620.0,679.0 530.0,628.9 440.0,578.9 350.0,528.8 260.0,478.8 170.0,428.8 80.0,378.7 -10.0,328.7" fill="url(#s62)"/>
<polygon points="-10.0,327.0 80.0,376.9 170.0,426.8 260.0,476.7 350.0,526.6 440.0,576.6 530.0,626.5 620.0,676.5 620.0,680.0 530.0,629.9 440.0,579.9 350.0,529.8 260.0,479.7 170.0,429.6 80.0,379.5 -10.0,329.4" fill="url(#s63)"/>
</g>
<polygon points="552.0,420.0 800.5,532.3 800.5,534.5 552.6,425.6" fill="#fbfbfa"/>
<polygon points="552.5,425.4 802.0,534.6 798.0,565.4 569.9,464.7 551.3,455.2" fill="url(#gw)" stroke="#b4bfc1" stroke-width="0.8"/>
<polygon points="497.6,580.0 519.1,586.8 732.2,704.5 712.7,728.5 480.4,601.6" fill="url(#ws)"/>
<polyline points="481.0,602.2 712.7,728.7" fill="none" stroke="#69716f" stroke-width="1.3"/>
<polygon points="569.9,464.7 799.0,565.8 793.0,613.0 567.9,505.0" fill="url(#hcU)" stroke="#a06a60" stroke-width="1"/>
<polygon points="569.9,464.7 799.0,565.8 793.0,613.0 567.9,505.0" fill="url(#hcUs)"/>
<polygon points="546.4,555.0 763.0,662.0 787.0,642.0 732.2,704.5 519.1,586.8" fill="url(#hcL)" stroke="#b87c7c" stroke-width="1"/>
<line x1="519.1" y1="586.8" x2="732.2" y2="704.5" stroke="#d9a86a" stroke-width="0.8"/>
<path d="M552.3,424.6 C549.2,425.6 540.1,427.4 533.8,430.5 C527.4,433.6 520.7,437.5 514.2,443.2 C507.7,448.9 500.9,456.6 494.7,464.7 C488.5,472.8 481.8,482.9 477.1,492.0 C472.4,501.1 469.0,510.3 466.4,519.4 C463.8,528.5 461.7,537.6 461.5,546.7 C461.3,555.8 463.4,566.7 465.4,574.0 C467.3,581.3 470.7,585.9 473.2,590.5 C475.7,595.1 479.2,599.8 480.4,601.6 L497.6,580.0 L519.0,587.0 L546.0,558.0 L568.0,502.0 L570.0,465.0 L551.3,455.9 Z" fill="url(#shf)"/>
<g clip-path="url(#shfc)"><path d="M551.3,455.9 C548.0,456.7 538.0,458.0 531.8,460.8 C525.6,463.6 519.7,467.3 514.2,472.5 C508.7,477.7 502.7,484.8 498.6,492.0 C494.5,499.2 491.8,507.7 489.8,515.5 C487.9,523.3 486.7,531.1 486.9,538.9 C487.1,546.7 489.0,555.4 490.8,562.3 C492.6,569.1 496.5,577.0 497.6,580.0" fill="none" stroke="#8f7a50" stroke-opacity="0.5" stroke-width="5" filter="url(#blur2)"/></g>
<path d="M551.3,455.9 C548.0,456.7 538.0,458.0 531.8,460.8 C525.6,463.6 519.7,467.3 514.2,472.5 C508.7,477.7 502.7,484.8 498.6,492.0 C494.5,499.2 491.8,507.7 489.8,515.5 C487.9,523.3 486.7,531.1 486.9,538.9 C487.1,546.7 489.0,555.4 490.8,562.3 C492.6,569.1 496.5,577.0 497.6,580.0 L519.1,586.8 L546.0,558.0 L568.0,502.0 L569.9,464.7 Z" fill="url(#tns)"/>
<path d="M569.9,464.7 C566.5,465.4 555.8,466.0 549.4,468.6 C543.0,471.2 537.0,475.4 531.8,480.3 C526.6,485.2 521.9,491.4 518.1,497.9 C514.4,504.4 511.2,511.9 509.3,519.4 C507.4,526.9 506.5,535.3 506.4,542.8 C506.2,550.3 506.9,557.8 508.4,564.3 C509.9,570.8 513.4,578.1 515.2,581.9 C517.0,585.6 518.5,586.0 519.1,586.8 L546.4,558.4 L567.9,501.8 Z" fill="url(#tnf)"/>
<g clip-path="url(#tnfc)"><path d="M567.9,501.8 C566.1,502.4 561.3,502.8 557.2,505.7 C553.1,508.6 546.6,514.5 543.5,519.4 C540.4,524.3 538.9,529.8 538.6,535.0 C538.3,540.2 540.3,546.7 541.6,550.6 C542.9,554.5 545.6,557.1 546.4,558.4" fill="none" stroke="#96815a" stroke-opacity="0.55" stroke-width="6" filter="url(#blur2)"/></g>
<path d="M567.9,501.8 C566.1,502.4 561.3,502.8 557.2,505.7 C553.1,508.6 546.6,514.5 543.5,519.4 C540.4,524.3 538.9,529.8 538.6,535.0 C538.3,540.2 540.3,546.7 541.6,550.6 C542.9,554.5 545.6,557.1 546.4,558.4 L761.5,664.8 L786.4,643.0 L791.5,608.0 Z" fill="url(#rod)"/>
<path d="M791.5,608.0 C788.1,609.9 776.0,614.9 771.0,619.4 C766.0,623.9 763.6,629.8 761.5,635.0 C759.4,640.2 758.6,645.6 758.6,650.6 C758.6,655.6 761.0,662.4 761.5,664.8 L786.4,643.2 Z" fill="url(#rodf)"/>
<path d="M851.3,552.0 C855.4,552.9 868.8,554.3 875.8,557.1 C882.8,559.9 888.0,563.3 893.4,568.9 C898.8,574.5 904.4,582.8 908.1,590.8 C911.8,598.8 914.4,607.9 915.4,617.2 C916.4,626.5 915.6,636.2 913.9,646.5 C912.2,656.8 909.5,668.0 905.1,678.8 C900.7,689.5 894.3,701.2 887.5,711.0 C880.7,720.8 872.4,729.6 864.1,737.4 C855.8,745.2 846.0,752.8 837.7,757.9 C829.4,763.0 822.6,766.5 814.3,768.2 C806.0,769.9 796.4,770.6 787.9,768.2 C779.4,765.8 767.1,756.2 763.0,753.8 L784.0,736.7 L786.0,643.0 L800.5,533.0 Z" fill="url(#lth)" filter="url(#noise)"/>
<path d="M908.1,590.8 C909.3,595.2 914.4,607.9 915.4,617.2 C916.4,626.5 915.6,636.2 913.9,646.5 C912.2,656.8 909.5,668.0 905.1,678.8 C900.7,689.5 894.3,701.2 887.5,711.0 C880.7,720.8 868.0,733.0 864.1,737.4" fill="none" stroke="#cdbf8e" stroke-opacity="0.7" stroke-width="1"/>
<polygon points="800.5,532.5 816.0,532.0 851.3,552.0 855.2,592.0 854.3,673.6 786.2,643.0" fill="#4f3e3b" stroke="#4f3e3b" stroke-width="0.8"/>
<g clip-path="url(#vfc)">
<polygon points="779.9,669.4 789.3,673.6 811.4,502.3 802.1,498.1" fill="#5f4d4a"/>
<polygon points="789.3,673.6 796.8,677.0 818.9,505.7 811.4,502.3" fill="#4e3d3a"/>
<polygon points="796.8,677.0 805.0,680.7 827.1,509.4 818.9,505.7" fill="#635150"/>
<polygon points="805.0,680.7 813.2,684.4 835.3,513.1 827.1,509.4" fill="#4e3d3a"/>
<polygon points="813.2,684.4 821.4,688.0 843.6,516.8 835.3,513.1" fill="#635150"/>
<polygon points="821.4,688.0 830.1,691.9 852.2,520.7 843.6,516.8" fill="#4e3d3a"/>
<polygon points="830.1,691.9 836.9,695.0 859.1,523.7 852.2,520.7" fill="#5f4d4b"/>
<polygon points="836.9,695.0 864.7,707.5 886.9,536.2 859.1,523.7" fill="#4f3e3b"/>
<polygon points="800.0,531.0 817.0,530.5 853.0,551.5 851.2,554.2 836.0,548.5 820.0,541.5 808.0,536.5 800.5,533.8" fill="#897775"/>
</g>
<g clip-path="url(#hfc)">
<rect x="700" y="630" width="170" height="140" fill="#6d5b58"/>
<polygon points="783.5,641.8 792.9,646.0 710.7,739.1 703.2,735.7" fill="#75635f"/>
<polygon points="792.9,646.0 800.3,649.4 716.7,741.8 710.7,739.1" fill="#695754"/>
<polygon points="800.3,649.4 808.5,653.0 723.2,744.8 716.7,741.8" fill="#857370"/>
<polygon points="808.5,653.0 816.8,656.7 729.8,747.7 723.2,744.8" fill="#6a5855"/>
<polygon points="816.8,656.7 825.0,660.4 736.4,750.7 729.8,747.7" fill="#857370"/>
<polygon points="825.0,660.4 833.6,664.3 743.3,753.8 736.4,750.7" fill="#6a5855"/>
<polygon points="833.6,664.3 840.5,667.4 748.8,756.2 743.3,753.8" fill="#82706d"/>
<polygon points="840.5,667.4 872.9,681.9 774.7,767.9 748.8,756.2" fill="#6d5b58"/>
</g>
<g fill="none" stroke="#2a5991" stroke-width="3.6" stroke-linejoin="miter">
<polyline points="557.5,405.5 566.0,365.0 815.0,476.0 807.5,516.0"/>
<line x1="551.5" y1="258" x2="687" y2="419.5"/>
<line x1="380.8" y1="528" x2="380.8" y2="626.5" stroke-width="3.8"/>
<line x1="542.5" y1="810" x2="769.3" y2="733.2"/>
</g>
<g font-family="'Liberation Sans', sans-serif" font-weight="bold" font-size="43" fill="#0a0a0a">
<text x="251.3" y="192.0" textLength="114.9" lengthAdjust="spacingAndGlyphs">High-Tech</text>
<text x="375.3" y="192.0" textLength="84.0" lengthAdjust="spacingAndGlyphs">Ferrule</text>
<text x="466.5" y="192.0" textLength="51.4" lengthAdjust="spacingAndGlyphs">with</text>
<text x="525.0" y="192.0" textLength="83.7" lengthAdjust="spacingAndGlyphs">Special</text>
<text x="251.3" y="235.4" textLength="136.4" lengthAdjust="spacingAndGlyphs">Lightweight</text>
<text x="397.2" y="235.4" textLength="99.2" lengthAdjust="spacingAndGlyphs">Polymer</text>
<text x="504.5" y="235.4" textLength="53.4" lengthAdjust="spacingAndGlyphs">Core</text>
<text x="248.9" y="673.4" textLength="57.3" lengthAdjust="spacingAndGlyphs">Solid</text>
<text x="314.6" y="673.4" textLength="54.1" lengthAdjust="spacingAndGlyphs">Core</text>
<text x="375.5" y="673.4" textLength="47.9" lengthAdjust="spacingAndGlyphs">Low</text>
<text x="248.9" y="718.8" textLength="119.8" lengthAdjust="spacingAndGlyphs">Deflection</text>
<text x="375.5" y="718.8" textLength="64.5" lengthAdjust="spacingAndGlyphs">Shaft</text>
<text x="249.8" y="821.0" textLength="84.5" lengthAdjust="spacingAndGlyphs">Everest</text>
<text x="342.6" y="821.0" textLength="33.9" lengthAdjust="spacingAndGlyphs">Tip</text>
<text x="384.9" y="821.0" textLength="33.9" lengthAdjust="spacingAndGlyphs">for</text>
<text x="428.6" y="821.0" textLength="99.5" lengthAdjust="spacingAndGlyphs">Superior</text>
<text x="249.8" y="866.2" textLength="42.4" lengthAdjust="spacingAndGlyphs">Ball</text>
<text x="302.0" y="866.2" textLength="85.5" lengthAdjust="spacingAndGlyphs">Control</text>
</g>
</svg>
</body></html>
